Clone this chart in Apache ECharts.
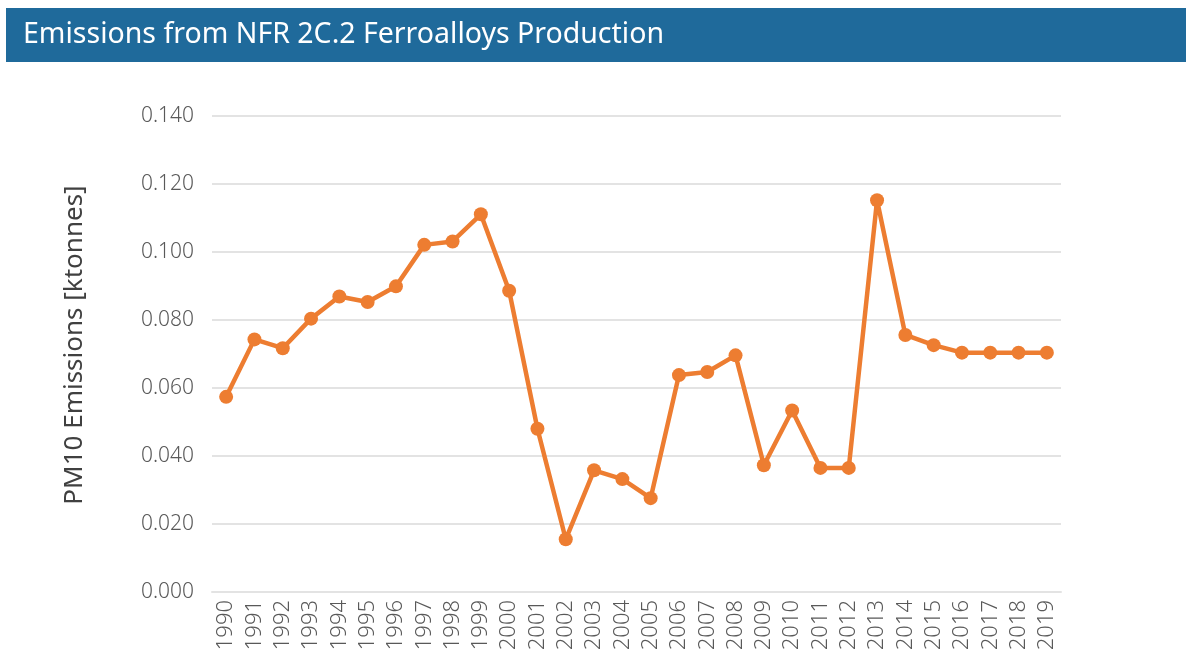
<!DOCTYPE html>
<html>
<head>
<meta charset="utf-8">
<script src="https://cdn.jsdelivr.net/npm/echarts@6/dist/echarts.min.js"></script>
<style>
  html, body { margin: 0; padding: 0; background: #ffffff; }
  #chart { width: 1186px; height: 664px; }
</style>
</head>
<body>
<div id="chart"></div>
<script>
// PM10 emissions from ferroalloys production, 1990-2019 (ktonnes)
const years = ['1990','1991','1992','1993','1994','1995','1996','1997','1998','1999',
               '2000','2001','2002','2003','2004','2005','2006','2007','2008','2009',
               '2010','2011','2012','2013','2014','2015','2016','2017','2018','2019'];
const pm10 = [0.0574, 0.0743, 0.0717, 0.0804, 0.0869, 0.0853, 0.0899, 0.1021, 0.1031, 0.1111,
              0.0886, 0.0480, 0.0155, 0.0358, 0.0332, 0.0276, 0.0638, 0.0647, 0.0696, 0.0373,
              0.0534, 0.0365, 0.0365, 0.1152, 0.0756, 0.0726, 0.0704, 0.0704, 0.0704, 0.0704];

const titleText = 'Emissions from NFR 2C.2 Ferroalloys Production';
const yAxisName = 'PM10 Emissions [ktonnes]';

const FONT = '"Noto Sans", "Open Sans", sans-serif';

const chart = echarts.init(document.getElementById('chart'), null, { renderer: 'canvas' });

chart.setOption({
  animation: false,
  backgroundColor: '#ffffff',
  graphic: [
    {
      type: 'rect',
      shape: { x: 6, y: 8, width: 1180, height: 54 },
      style: { fill: '#1f6a9b' },
      silent: true
    },
    {
      type: 'text',
      x: 23, y: 35,
      style: {
        text: titleText,
        fill: '#ffffff',
        font: '400 28.5px ' + FONT,
        verticalAlign: 'middle'
      },
      silent: true
    }
  ],
  grid: { left: 212, top: 116, width: 849, height: 476, containLabel: false },
  xAxis: {
    type: 'category',
    data: years,
    boundaryGap: true,
    axisLine: { show: true, lineStyle: { color: '#e3e3e3', width: 2 } },
    axisTick: { show: false },
    axisLabel: {
      rotate: 90,
      color: '#595959',
      fontSize: 22,
      fontWeight: 300,
      fontFamily: FONT,
      margin: 8,
      interval: 0
    }
  },
  yAxis: {
    type: 'value',
    min: 0,
    max: 0.14,
    interval: 0.02,
    name: yAxisName,
    nameLocation: 'middle',
    nameGap: 124,
    nameRotate: 90,
    nameTextStyle: {
      color: '#404040',
      fontSize: 26,
      fontWeight: 400,
      fontFamily: FONT,
      padding: [0, 0, 0, 18]
    },
    axisLine: { show: false },
    axisTick: { show: false },
    splitLine: { lineStyle: { color: '#e3e3e3', width: 2 } },
    axisLabel: {
      color: '#595959',
      fontSize: 21,
      fontWeight: 300,
      fontFamily: FONT,
      margin: 18,
      formatter: v => v.toFixed(3)
    }
  },
  series: [{
    type: 'line',
    data: pm10,
    symbol: 'circle',
    symbolSize: 14,
    lineStyle: { color: '#ed7d31', width: 4.5 },
    itemStyle: { color: '#ed7d31' }
  }]
});
</script>
</body>
</html>
